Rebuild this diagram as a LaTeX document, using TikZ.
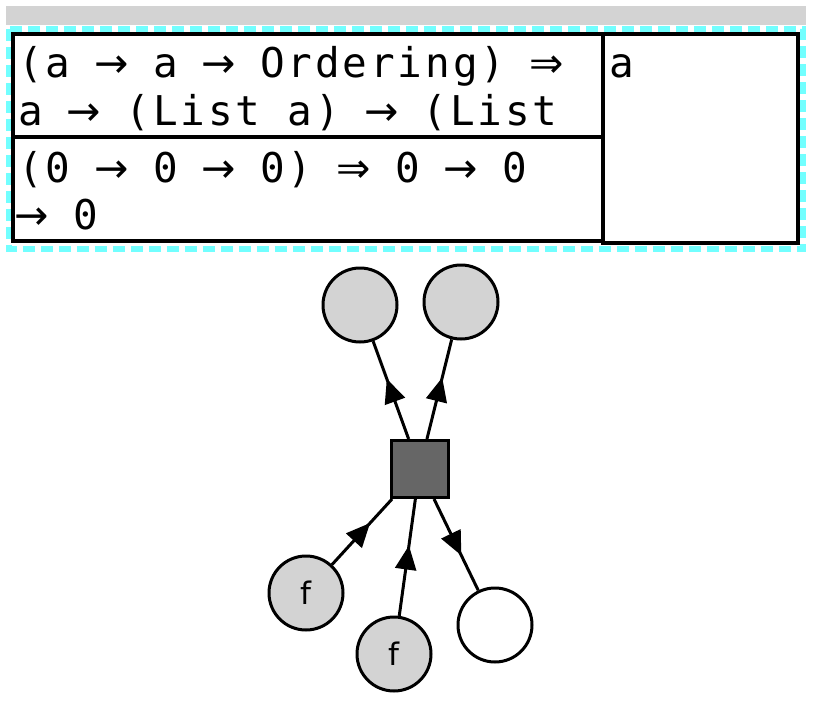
\documentclass[tikz,border=0pt]{standalone}
\usepackage{fontspec}
\setmonofont[LetterSpace=7]{DejaVu Sans Mono}
\setsansfont{DejaVu Sans}
\newfontfamily\arrowfont{DejaVu Sans}
\usetikzlibrary{arrows.meta,decorations.markings}
\definecolor{boxgray}{HTML}{D3D3D3}
\definecolor{hilite}{RGB}{114,255,255}
\definecolor{opgray}{HTML}{666666}
\newcommand\rto{\makebox[0.67em]{\arrowfont →}}
\newcommand\Rto{\makebox[0.67em]{\arrowfont ⇒}}
\tikzset{
  cell/.style={draw=black,line width=4pt},
  sigline/.style={anchor=base west,inner sep=0pt,font=\ttfamily\fontsize{41}{48}\selectfont},
  val/.style={circle,draw=black,line width=3pt,fill=boxgray,minimum size=74pt,inner sep=0pt,
    font=\sffamily\fontsize{31}{31}\selectfont},
  op/.style={rectangle,draw=black,line width=3pt,fill=opgray,minimum size=57pt,inner sep=0pt},
  flow/.style={line width=3pt,postaction={decorate},
    decoration={markings,mark=at position 0.5 with {\arrow[xshift=12pt]{Triangle[length=24pt,width=21pt]}}}}
}
\begin{document}
\begin{tikzpicture}[x=1pt,y=-1pt]
    \useasboundingbox (0,0) rectangle (814,704);
    % header bar and highlight frame
    \fill[boxgray] (6,6) rectangle (806,25);
    \draw[hilite,line width=6pt,dash pattern=on 12pt off 6pt] (9,28.5) rectangle (803,249);
    % table cells
    \draw[cell] (13,34) rectangle (603,241);
    \draw[cell] (13,137) -- (603,137);
    \draw[cell] (603,34) rectangle (798,243);
    % signature text
    \node[sigline] (sig1) at (18,77) {(a \rto{} a \rto{} Ordering) \Rto};
    \node[sigline] (sig2) at (18,125) {a \rto{} (List a) \rto{} (List};
    \node[sigline] (inst1) at (18,182) {(0 \rto{} 0 \rto{} 0) \Rto{} 0 \rto{} 0};
    \node[sigline] (inst2) at (18,229) {\rto{} 0};
    \node[sigline] (var) at (609,77) {a};
    % graph
    \node[op] (sq) at (419.5,469) {};
    \node[val] (out1) at (360,305) {};
    \node[val] (out2) at (461,302) {};
    \node[val] (fa) at (306,593) {f};
    \node[val] (fb) at (394,654) {f};
    \node[val,fill=white] (res) at (495,625) {};
    % edges
    \draw[flow] (sq) -- (out1);
    \draw[flow] (sq) -- (out2);
    \draw[flow] (fa) -- (sq);
    \draw[flow] (fb) -- (sq);
    \draw[flow] (sq) -- (res);
\end{tikzpicture}
\end{document}
